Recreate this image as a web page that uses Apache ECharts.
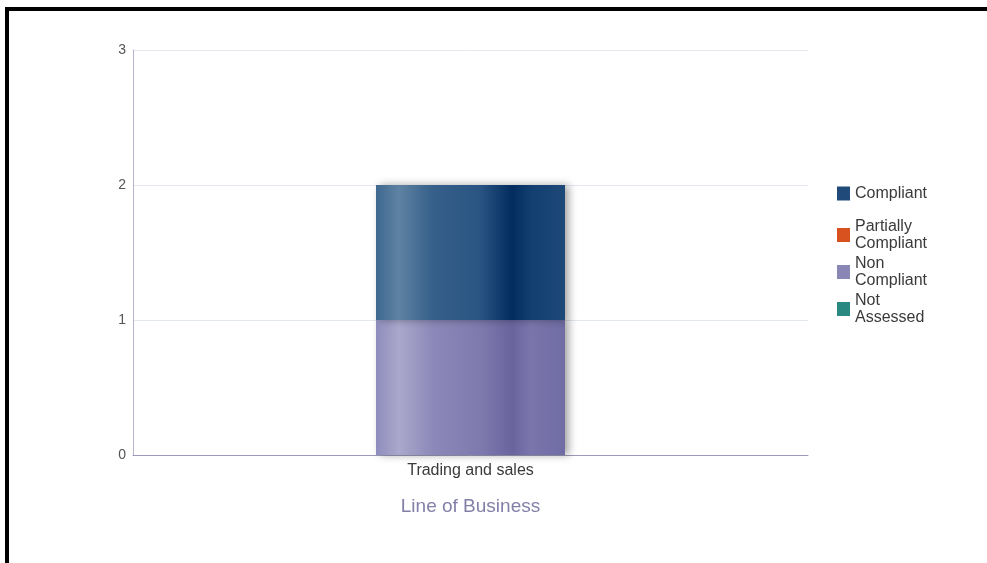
<!DOCTYPE html>
<html>
<head>
<meta charset="utf-8">
<script src="https://cdn.jsdelivr.net/npm/echarts@6/dist/echarts.min.js"></script>
<style>
html,body{margin:0;padding:0;background:#fff;}
#frame{position:absolute;left:5px;top:7px;width:990px;height:560px;border-top:4px solid #000;border-left:4px solid #000;}
#chart{position:absolute;left:0;top:0;width:987px;height:563px;}
</style>
</head>
<body>
<div id="frame"></div>
<div id="chart"></div>
<script>
var categories = ["Trading and sales"];
var seriesNames = ["Compliant", "Partially Compliant", "Non Compliant", "Not Assessed"];
var seriesColors = ["#1f4a7a", "#d8521f", "#8a86b6", "#2a8a82"];
var compliant = [1];
var partiallyCompliant = [0];
var nonCompliant = [1];
var notAssessed = [0];
var yTicks = [0, 1, 2, 3];

function grad(stops) {
  return new echarts.graphic.LinearGradient(0, 0, 1, 0, stops.map(function (s) { return { offset: s[0], color: s[1] }; }));
}
var compliantFill = grad([[0, '#3f6890'], [0.12, '#5e82a2'], [0.3, '#36608a'], [0.55, '#2a5482'], [0.72, '#022c5e'], [0.82, '#123f70'], [1, '#1d4878']]);
var nonFill = grad([[0, '#8e8cbc'], [0.12, '#aaa8cc'], [0.3, '#8c88b8'], [0.55, '#7f7aae'], [0.72, '#6a649e'], [0.82, '#7a76ac'], [1, '#706ca4']]);

var shadow = { shadowColor: 'rgba(0,0,0,0.35)', shadowBlur: 8, shadowOffsetX: 4, shadowOffsetY: 0 };

function legendItem(i) {
  return { name: seriesNames[i], icon: 'rect', itemStyle: { color: seriesColors[i] } };
}
var legendCommon = {
  orient: 'vertical',
  left: 832,
  itemWidth: 13,
  itemHeight: 14,
  itemGap: 3,
  selectedMode: false,
  formatter: function (n) { return n.replace(' ', '\n'); },
  textStyle: { fontSize: 16, color: '#3a3a3a', lineHeight: 17 }
};

var chart = echarts.init(document.getElementById('chart'), null, { renderer: 'canvas' });
chart.setOption({
  backgroundColor: 'transparent',
  animation: false,
  textStyle: { fontFamily: 'Liberation Sans, Arial, sans-serif' },
  grid: { left: 133, right: 179, top: 50, bottom: 108 },
  legend: [
    Object.assign({}, legendCommon, { top: 180, data: [legendItem(0)] }),
    Object.assign({}, legendCommon, { top: 213, data: [legendItem(1), legendItem(2), legendItem(3)] })
  ],
  xAxis: {
    type: 'category',
    data: categories,
    name: 'Line of Business',
    nameLocation: 'middle',
    nameGap: 42,
    nameTextStyle: { fontSize: 19, color: '#8280a8' },
    axisLine: { lineStyle: { color: '#9c9ab8', width: 1 } },
    axisTick: { show: false },
    axisLabel: { fontSize: 16, color: '#3a3a3a', margin: 8 }
  },
  yAxis: {
    type: 'value',
    min: yTicks[0],
    max: yTicks[yTicks.length - 1],
    interval: 1,
    axisLine: { show: true, lineStyle: { color: '#b4b4cc' } },
    axisTick: { show: false },
    axisLabel: { fontSize: 14, color: '#555', margin: 7 },
    splitLine: { lineStyle: { color: '#e2e8ee' } }
  },
  series: [
    { name: 'Non Compliant', type: 'bar', stack: 'a', data: nonCompliant, barWidth: '28%',
      itemStyle: Object.assign({ color: nonFill }, shadow), color: seriesColors[2] },
    { name: 'Partially Compliant', type: 'bar', stack: 'a', data: partiallyCompliant, barWidth: '28%',
      itemStyle: { color: seriesColors[1] }, color: seriesColors[1] },
    { name: 'Compliant', type: 'bar', stack: 'a', data: compliant, barWidth: '28%',
      itemStyle: Object.assign({ color: compliantFill }, shadow), color: seriesColors[0] },
    { name: 'Not Assessed', type: 'bar', stack: 'a', data: notAssessed, barWidth: '28%',
      itemStyle: { color: seriesColors[3] }, color: seriesColors[3] }
  ]
});
</script>
</body>
</html>
